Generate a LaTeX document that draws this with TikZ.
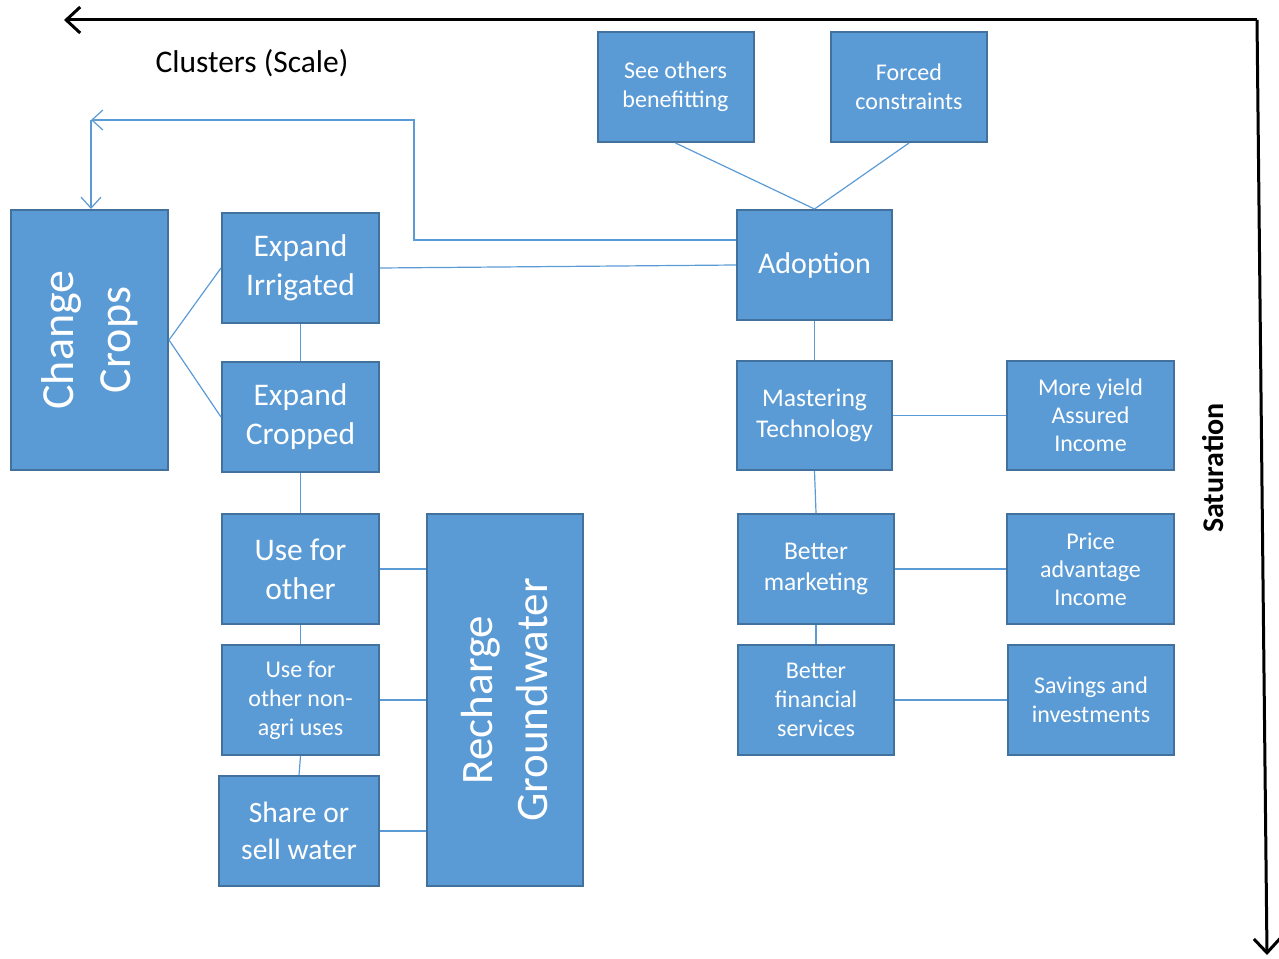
\documentclass[tikz,border=0pt]{standalone}
\usepackage{fontspec}
\setmainfont{Carlito}
\usetikzlibrary{arrows.meta}
\definecolor{boxfill}{HTML}{5B9BD5}
\definecolor{boxline}{HTML}{41719C}
\definecolor{conn}{HTML}{5B9BD5}
\tikzset{
  box/.style={draw=boxline, line width=2pt, fill=boxfill, text=white, align=center, inner sep=0pt},
  big/.style={font=\fontsize{31.5}{39}\selectfont},
  mid/.style={font=\fontsize{25.5}{31}\selectfont},
  small/.style={font=\fontsize{24}{29}\selectfont},
  huge/.style={font=\fontsize{46}{57}\selectfont},
  conn/.style={draw=conn, line width=1.2pt},
  axis/.style={draw=black, line width=3pt},
}
\begin{document}
\begin{tikzpicture}[x=1pt,y=-1pt]
\useasboundingbox (0,0) rectangle (1279,958);
% axes
\coordinate (corner) at (1257,20);
\coordinate (left) at (64,20);
\coordinate (bottom) at (1267,955);
\draw[axis, -{Straight Barb[length=14pt,width=26pt,line width=3pt]}] (corner) -- (left);
\draw[axis, -{Straight Barb[length=14pt,width=26pt,line width=3pt]}] (corner) -- (bottom);
\node[font=\fontsize{31.5}{36}\selectfont] (clusters) at (252,63) {Clusters (Scale)};
\node[rotate=90, font=\fontsize{30}{34}\selectfont\bfseries] (sat) at (1213,468) {Saturation};

% boxes
\node[box, small, minimum width=156pt, minimum height=110pt] (see) at (675.5,87) {See others\\benefitting};
\node[box, small, minimum width=156pt, minimum height=110pt] (forced) at (909,87) {Forced\\constraints};
\node[box, font=\fontsize{30}{39}\selectfont, minimum width=155pt, minimum height=110pt] (adopt) at (814.5,265) {Adoption};
\node[box, big, minimum width=157pt, minimum height=110pt] (ei) at (300.5,268) {Expand\\Irrigated};
\node[box, big, minimum width=157pt, minimum height=110pt] (ec) at (300.5,417) {Expand\\Cropped};
\node[box, minimum width=157pt, minimum height=260pt] (cc) at (89.5,340) {};
\node[huge, rotate=90, text=white, align=center] (cctext) at (cc.center) {Change\\Crops};
\node[box, mid, minimum width=155pt, minimum height=109pt] (mast) at (814.5,415.5) {Mastering\\Technology};
\node[box, small, minimum width=167pt, minimum height=109pt] (yield) at (1090.5,415.5) {More yield\\[-1pt]Assured\\[-1pt]Income};
\node[box, mid, minimum width=156pt, minimum height=110pt] (mkt) at (816,569) {Better\\marketing};
\node[box, small, minimum width=167pt, minimum height=110pt] (price) at (1090.5,569) {Price\\[-1pt]advantage\\[-1pt]Income};
\node[box, small, minimum width=156pt, minimum height=110pt] (fin) at (816,700) {Better\\financial\\services};
\node[box, small, minimum width=166pt, minimum height=110pt] (sav) at (1091,700) {Savings and\\investments};
\node[box, big, minimum width=157pt, minimum height=110pt] (use) at (300.5,569) {Use for\\other};
\node[box, small, minimum width=157pt, minimum height=110pt] (nonagri) at (300.5,700) {Use for\\other non-\\agri uses};
\node[box, font=\fontsize{29.5}{37}\selectfont, minimum width=160pt, minimum height=110pt] (share) at (299,831) {Share or\\sell water};
\node[box, minimum width=156pt, minimum height=372pt] (rech) at (505,700) {};
\node[font=\fontsize{45}{55}\selectfont, rotate=90, text=white, align=center] (rechtext) at (rech.center) {Recharge\\Groundwater};

% connectors
\draw[conn] (see.south) -- (adopt.north);
\draw[conn] (forced.south) -- (adopt.north);
\coordinate (turn) at (91,120);
\draw[conn, -{Straight Barb[length=11pt,width=20pt,line width=1.2pt]}] (adopt.west |- 0,240) -- (414,240) -- (414,120) -- (turn);
\draw[conn, -{Straight Barb[length=11pt,width=20pt,line width=1.2pt]}] (turn) -- (turn |- cc.north);
\draw[conn] (ei.east) -- (adopt.west);
\draw[conn] (cc.east) -- (ei.west);
\draw[conn] (cc.east) -- (ec.west);
\draw[conn] (ei.south) -- (ec.north);
\draw[conn] (ec.south) -- (use.north);
\draw[conn] (use.south) -- (nonagri.north);
\draw[conn] (nonagri.south) -- (share.north);
\draw[conn] (use.east) -- (use.east -| rech.west);
\draw[conn] (nonagri.east) -- (nonagri.east -| rech.west);
\draw[conn] (share.east) -- (share.east -| rech.west);
\draw[conn] (adopt.south) -- (mast.north);
\draw[conn] (mast.east) -- (yield.west);
\draw[conn] (mast.south) -- (mkt.north);
\draw[conn] (mkt.east) -- (price.west);
\draw[conn] (mkt.south) -- (fin.north);
\draw[conn] (fin.east) -- (sav.west);
\end{tikzpicture}
\end{document}
